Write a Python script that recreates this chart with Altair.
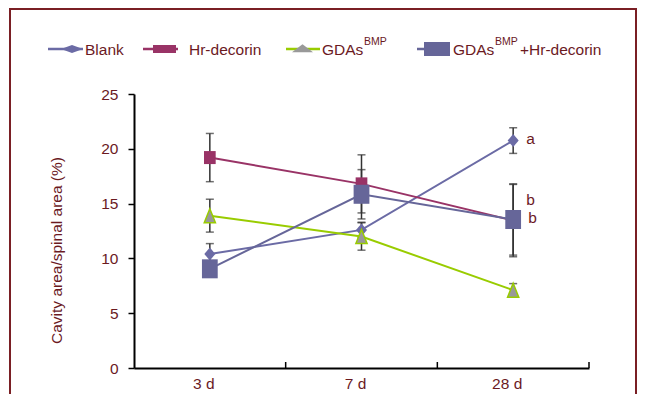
import altair as alt
import pandas as pd

# ---------------- data ----------------
categories = ["3 d", "7 d", "28 d"]

blank = [10.4, 12.6, 20.75]
blank_err = [0.95, 0.7, 1.17]
hr_decorin = [19.2, 16.8, 13.45]
hr_decorin_err = [2.2, 2.65, 3.3]
gdas = [13.9, 12.0, 7.1]
gdas_err = [1.5, 1.25, 0.6]
gdas_hr = [9.05, 15.85, 13.55]
gdas_hr_err = [0.5, 2.25, 3.25]

y_ticks = [0, 5, 10, 15, 20, 25]
y_title = "Cavity area/spinal area (%)"

letters = ["a", "b", "b"]
letter_cat = ["28 d", "28 d", "28 d"]
letter_y = [20.9, 15.35, 13.7]
letter_dx = [13, 13, 15]

# ---------------- styles ----------------
MAROON = "#6B1A1F"
FONT = "Liberation Sans"
FS = 15.5
W, H = 455, 274

series = [
    dict(name="Blank", vals=blank, err=blank_err, line="#6B6BA5", fill="#6B6BA5",
         stroke="#6B6BA5", shape="M0,-1L0.85,0L0,1L-0.85,0Z", size=169,
         lshape="M-1,0L0,-0.36L1,0L0,0.36Z", lsize=484),
    dict(name="Hr-decorin", vals=hr_decorin, err=hr_decorin_err, line="#993366", fill="#993366",
         stroke="#993366", shape="M-0.9,-1L0.9,-1L0.9,1L-0.9,1Z", size=169,
         lshape="M-1,-0.35L1,-0.35L1,0.35L-1,0.35Z", lsize=529),
    dict(name="GDAs", vals=gdas, err=gdas_err, line="#99CC00", fill="#999999",
         stroke="#99CC00", shape="M0,-1L0.8,1L-0.8,1Z", size=196,
         lshape="M0,-0.45L1,0.3L-1,0.3Z", lsize=441),
    dict(name="GDAs+Hr-decorin", vals=gdas_hr, err=gdas_hr_err, line="#666699", fill="#666699",
         stroke="#666699", shape="M-0.83,-1L0.83,-1L0.83,1L-0.83,1Z", size=361,
         lshape="M-1,-0.54L1,-0.54L1,0.54L-1,0.54Z", lsize=676),
]

rows = []
for s in series:
    for c, v, e in zip(categories, s["vals"], s["err"]):
        rows.append(dict(series=s["name"], cat=c, v=v, lo=v - e, hi=v + e))
df = pd.DataFrame(rows)

x_scale = alt.Scale(type="band", domain=categories, paddingInner=0, paddingOuter=0)
y_scale = alt.Scale(domain=[0, 25], nice=False, zero=True)

x_axis = alt.Axis(title=None, labelAngle=0, ticks=False, tickSize=0, domainColor="black",
                  domainWidth=2, labelColor=MAROON, labelFont=FONT, labelFontSize=FS,
                  labelPadding=8, labelOffset=-6, grid=False)
y_axis = alt.Axis(values=y_ticks, title=y_title, domainColor="black", domainWidth=2,
                  tickColor="black", tickWidth=1.5, tickSize=6, labelColor=MAROON,
                  labelFont=FONT, labelFontSize=FS, labelPadding=10, titleColor=MAROON,
                  titleFont=FONT, titleFontSize=FS, titleFontWeight="normal",
                  titlePadding=36, titleY=156, grid=False)

X = alt.X("cat:N", sort=categories, scale=x_scale, axis=x_axis)


def Y(field):
    return alt.Y(f"{field}:Q", scale=y_scale, axis=y_axis)


base = alt.Chart(df)
layers = []

# outer frame (right edge at the right border of the drawing)
layers.append(
    alt.Chart(alt.Data(values=[{"k": 0}])).mark_rect(
        fillOpacity=0, stroke="#7A1F24", strokeWidth=2
    ).encode(x=alt.value(-124), x2=alt.value(502), y=alt.value(-85), y2=alt.value(420))
)

# x-axis inward ticks at band boundaries
layers.append(
    alt.Chart(pd.DataFrame({"cat": categories})).mark_rule(color="black", strokeWidth=1.5).encode(
        x=alt.X("cat:N", sort=categories, scale=x_scale, axis=x_axis, bandPosition=1),
        y=alt.value(H - 6), y2=alt.value(H),
    )
)

# error bars
layers.append(base.mark_rule(color="#333333", strokeWidth=1.5).encode(x=X, y=Y("lo"), y2="hi"))
layers.append(base.mark_tick(color="#333333", size=8, thickness=1.5).encode(x=X, y=Y("lo")))
layers.append(base.mark_tick(color="#333333", size=8, thickness=1.5).encode(x=X, y=Y("hi")))

# lines and markers
for s in series:
    sub = base.transform_filter(alt.datum.series == s["name"])
    layers.append(sub.mark_line(color=s["line"], strokeWidth=2).encode(x=X, y=Y("v")))
for s in series:
    sub = base.transform_filter(alt.datum.series == s["name"])
    layers.append(
        sub.mark_point(shape=s["shape"], size=s["size"], filled=True, fill=s["fill"],
                       stroke=s["stroke"], strokeWidth=1.5 if s["name"] == "GDAs" else 0,
                       opacity=1).encode(x=X, y=Y("v"))
    )

# significance letters
ldf = pd.DataFrame({"cat": letter_cat, "v": letter_y, "t": letters, "dx": letter_dx})
for i in range(len(letters)):
    layers.append(
        alt.Chart(ldf.iloc[[i]]).mark_text(align="left", baseline="middle", dx=letter_dx[i],
                                           font=FONT, fontSize=FS, color=MAROON).encode(
            x=X, y=Y("v"), text="t:N")
    )

# legend (manual, to allow the superscript)
LY = -45           # vertical centre of the legend row (relative to plot top)
BASE = -39         # text baseline
SUP = -49.5        # superscript baseline
legend_geom = [
    (-86, -51, -62, [(-49, "Blank", False)]),
    (9, 44, 30.5, [(55, "Hr-decorin", False)]),
    (152, 186, 168.5, [(188, "GDAs", False), (230, "BMP", True)]),
    (283, 316, 303, [(319, "GDAs", False), (361, "BMP", True), (386, "+Hr-decorin", False)]),
]
one = alt.Data(values=[{"k": 0}])
for s, (x1, x2, xm, texts) in zip(series, legend_geom):
    layers.append(alt.Chart(one).mark_rule(color=s["line"], strokeWidth=2.5).encode(
        x=alt.value(x1), x2=alt.value(x2), y=alt.value(LY)))
    layers.append(alt.Chart(one).mark_point(shape=s["lshape"], size=s["lsize"], filled=True,
                                            fill=s["fill"], opacity=1, strokeWidth=0).encode(
        x=alt.value(xm), y=alt.value(LY)))
    for tx, t, sup in texts:
        layers.append(alt.Chart(one).mark_text(
            text=t, align="left", baseline="alphabetic", font=FONT,
            fontSize=10.5 if sup else FS, color=MAROON).encode(
            x=alt.value(tx), y=alt.value(SUP if sup else BASE)))

chart = alt.layer(*layers).properties(
    width=W, height=H,
    autosize=alt.AutoSizeParams(type="none"),
    padding={"left": 126, "top": 86, "right": 49, "bottom": 30},
).configure_view(stroke=None)

chart.save("out.html", embed_options={"renderer": "svg", "actions": False})
